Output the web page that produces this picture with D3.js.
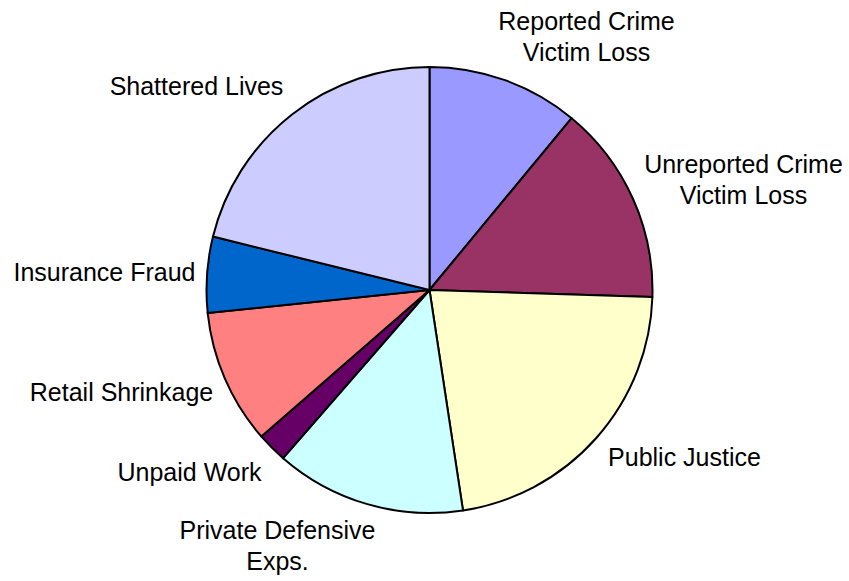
<!DOCTYPE html>
<html>
<head>
<meta charset="utf-8">
<script src="https://cdn.jsdelivr.net/npm/d3@7"></script>
<style>
  body { margin: 0; background: #fff; }
  text { font-family: "Liberation Sans", Arial, sans-serif; fill: #000; }
</style>
</head>
<body>
<svg id="chart" width="849" height="581"></svg>
<script>
// === DONNÉES ===
const categories = [
  "Reported Crime\nVictim Loss",
  "Unreported Crime\nVictim Loss",
  "Public Justice",
  "Private Defensive\nExps.",
  "Unpaid Work",
  "Retail Shrinkage",
  "Insurance Fraud",
  "Shattered Lives"
];
const shares = [11.0, 14.5, 22.1, 13.8, 2.2, 9.75, 5.5, 21.15];
const sliceColors = ["#9999FF", "#993366", "#FFFFCC", "#CCFFFF", "#660066", "#FF8080", "#0066CC", "#CCCCFF"];

// === MISE EN PAGE ===
const cx = 429.5, cy = 290, radius = 223;
const fontSize = 25, lineHeight = 31;
// décalage des étiquettes par rapport au centre (x centre du texte, ligne de base 1)
const labelOffsets = [
  [157, -260], [314, -117], [255, 176], [-152, 249],
  [-240, 191], [-308, 111], [-325, -9], [-233, -195]
];

const svg = d3.select("#chart");
const g = svg.append("g").attr("transform", `translate(${cx},${cy})`);

const pie = d3.pie().sort(null).value(d => d);
const arc = d3.arc().innerRadius(0).outerRadius(radius);

const arcs = pie(shares);

g.selectAll("path.slice")
  .data(arcs)
  .enter()
  .append("path")
  .attr("class", "slice")
  .attr("d", arc)
  .attr("fill", (d, i) => sliceColors[i])
  .attr("stroke", "#000")
  .attr("stroke-width", 2)
  .attr("stroke-linejoin", "round");

// === ÉTIQUETTES ===
const labels = g.selectAll("text.label")
  .data(categories)
  .enter()
  .append("text")
  .attr("class", "label")
  .attr("text-anchor", "middle")
  .style("font-size", fontSize + "px")
  .attr("transform", (d, i) => `translate(${labelOffsets[i][0]},${labelOffsets[i][1]})`);

labels.each(function(d) {
  const t = d3.select(this);
  d.split("\n").forEach((line, j) => {
    t.append("tspan").attr("x", 0).attr("y", j * lineHeight).text(line);
  });
});
</script>
</body>
</html>
